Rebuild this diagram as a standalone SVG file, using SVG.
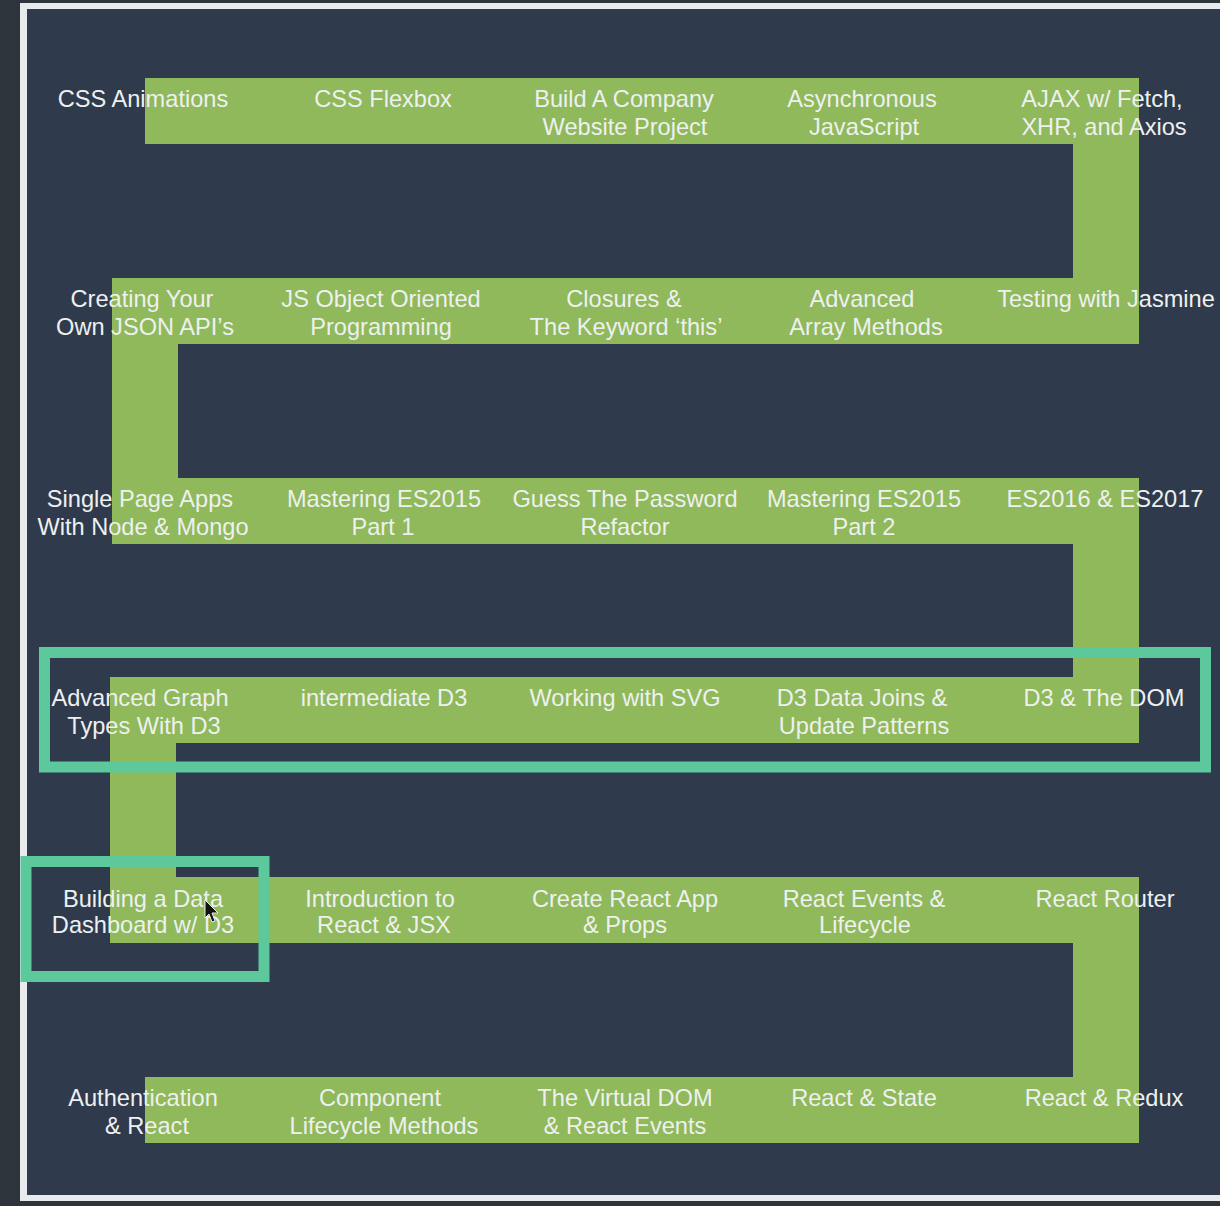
<svg xmlns="http://www.w3.org/2000/svg" width="1220" height="1206" viewBox="0 0 1220 1206">
<style>
.lbl{font-family:"Liberation Sans","Helvetica","Arial",sans-serif;font-size:23.6px;fill:#eef0f0;text-anchor:middle}
.hl{fill:none;stroke:#5dc89b;stroke-width:11}
</style>
<rect x="0" y="0" width="1220" height="1206" fill="#2d343c"/>
<rect x="20" y="3" width="1210" height="1198" fill="#e8ebee"/>
<rect x="27" y="9" width="1200" height="1186" fill="#2f3b4c"/>
<g id="connectors">
<polyline points="145,111 1106,111 1106,311 145,311 145,511 1106,511 1106,710 143,710 143,910 1106,910 1106,1110 145,1110" fill="none" stroke="#8fb95a" stroke-width="66" stroke-linejoin="miter" stroke-linecap="butt"/>
</g>
<g id="highlights">
<rect id="hl-d3row" class="hl" x="44.5" y="652.5" width="1161" height="114.5"/>
<rect id="hl-dashboard" class="hl" x="26" y="861.5" width="238" height="115"/>
</g>
<g id="nodes">
<g id="n-css-animations"><text class="lbl" x="143" y="107">CSS Animations</text></g>
<g id="n-css-flexbox"><text class="lbl" x="383" y="107">CSS Flexbox</text></g>
<g id="n-company"><text class="lbl" x="624" y="107">Build A Company</text><text class="lbl" x="625" y="135">Website Project</text></g>
<g id="n-async"><text class="lbl" x="862" y="107">Asynchronous</text><text class="lbl" x="864" y="135">JavaScript</text></g>
<g id="n-ajax"><text class="lbl" x="1102" y="107">AJAX w/ Fetch,</text><text class="lbl" x="1104" y="135">XHR, and Axios</text></g>

<g id="n-json-api"><text class="lbl" x="142" y="307">Creating Your</text><text class="lbl" x="145" y="335">Own JSON API’s</text></g>
<g id="n-js-oop"><text class="lbl" x="381" y="307">JS Object Oriented</text><text class="lbl" x="381" y="335">Programming</text></g>
<g id="n-closures"><text class="lbl" x="624" y="307">Closures &amp;</text><text class="lbl" x="626" y="335">The Keyword ‘this’</text></g>
<g id="n-array"><text class="lbl" x="862" y="307">Advanced</text><text class="lbl" x="866" y="335">Array Methods</text></g>
<g id="n-jasmine"><text class="lbl" x="1106" y="307">Testing with Jasmine</text></g>

<g id="n-spa"><text class="lbl" x="140" y="507">Single Page Apps</text><text class="lbl" x="143" y="535">With Node &amp; Mongo</text></g>
<g id="n-es2015-1"><text class="lbl" x="384" y="507">Mastering ES2015</text><text class="lbl" x="383" y="535">Part 1</text></g>
<g id="n-guess"><text class="lbl" x="625" y="507">Guess The Password</text><text class="lbl" x="625" y="535">Refactor</text></g>
<g id="n-es2015-2"><text class="lbl" x="864" y="507">Mastering ES2015</text><text class="lbl" x="864" y="535">Part 2</text></g>
<g id="n-es2016"><text class="lbl" x="1105" y="507">ES2016 &amp; ES2017</text></g>

<g id="n-adv-graph"><text class="lbl" x="140" y="706">Advanced Graph</text><text class="lbl" x="144" y="734">Types With D3</text></g>
<g id="n-inter-d3"><text class="lbl" x="384" y="706">intermediate D3</text></g>
<g id="n-svg"><text class="lbl" x="625" y="706">Working with SVG</text></g>
<g id="n-joins"><text class="lbl" x="862" y="706">D3 Data Joins &amp;</text><text class="lbl" x="864" y="734">Update Patterns</text></g>
<g id="n-d3-dom"><text class="lbl" x="1104" y="706">D3 &amp; The DOM</text></g>

<g id="n-dashboard"><text class="lbl" x="143" y="907">Building a Data</text><text class="lbl" x="143" y="933">Dashboard w/ D3</text></g>
<g id="n-intro-react"><text class="lbl" x="380" y="907">Introduction to</text><text class="lbl" x="384" y="933">React &amp; JSX</text></g>
<g id="n-cra"><text class="lbl" x="625" y="907">Create React App</text><text class="lbl" x="625" y="933">&amp; Props</text></g>
<g id="n-events"><text class="lbl" x="864" y="907">React Events &amp;</text><text class="lbl" x="865" y="933">Lifecycle</text></g>
<g id="n-router"><text class="lbl" x="1105" y="907">React Router</text></g>

<g id="n-auth"><text class="lbl" x="143" y="1106">Authentication</text><text class="lbl" x="147" y="1134">&amp; React</text></g>
<g id="n-lifecycle"><text class="lbl" x="380" y="1106">Component</text><text class="lbl" x="384" y="1134">Lifecycle Methods</text></g>
<g id="n-vdom"><text class="lbl" x="625" y="1106">The Virtual DOM</text><text class="lbl" x="625" y="1134">&amp; React Events</text></g>
<g id="n-state"><text class="lbl" x="864" y="1106">React &amp; State</text></g>
<g id="n-redux"><text class="lbl" x="1104" y="1106">React &amp; Redux</text></g>
</g>
<path d="M205,900 L205,918 L209,914 L212,922 L215,921 L212,913 L218,913 Z" fill="#111" stroke="#eee" stroke-width="1"/>
</svg>
